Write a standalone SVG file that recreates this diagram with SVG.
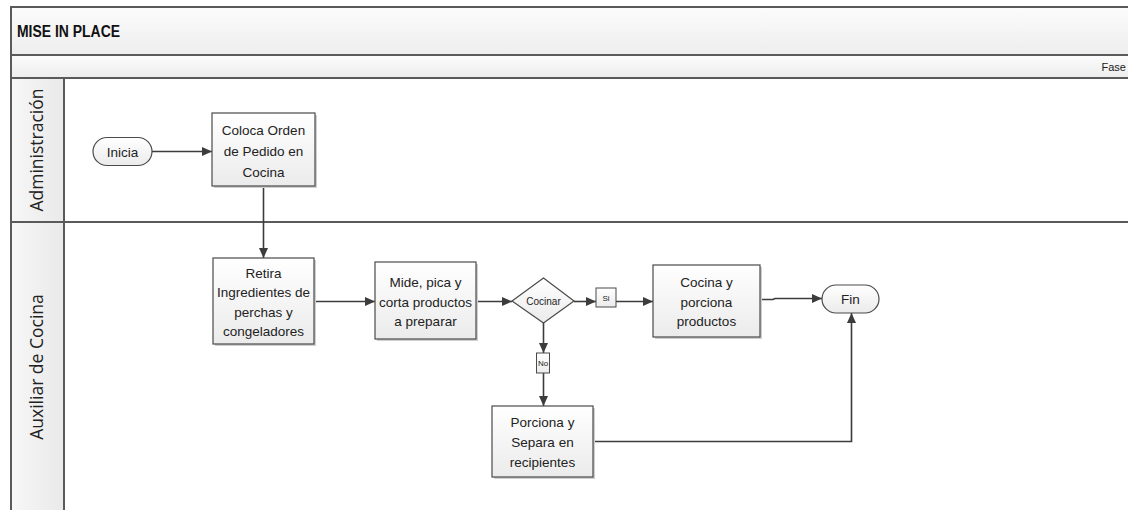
<svg xmlns="http://www.w3.org/2000/svg" width="1128" height="510" viewBox="0 0 1128 510">
  <defs>
    <linearGradient id="gBox" x1="0" y1="0" x2="0" y2="1">
      <stop offset="0" stop-color="#ffffff"/>
      <stop offset="1" stop-color="#ebebeb"/>
    </linearGradient>
    <linearGradient id="gBand" x1="0" y1="0" x2="0" y2="1">
      <stop offset="0" stop-color="#fcfcfc"/>
      <stop offset="1" stop-color="#ededed"/>
    </linearGradient>
    <linearGradient id="gHead" x1="0" y1="0" x2="1" y2="0">
      <stop offset="0" stop-color="#f7f7f7"/>
      <stop offset="1" stop-color="#e9e9e9"/>
    </linearGradient>
    <marker id="arrow" markerUnits="userSpaceOnUse" markerWidth="10" markerHeight="9" refX="10" refY="4.5" orient="auto">
      <path d="M0,0 L10,4.5 L0,9 z" fill="#3c3c3c"/>
    </marker>
    <style>
      .frame { fill: none; stroke: #5a5a5a; stroke-width: 2; }
      .band { fill: url(#gBand); }
      .head { fill: url(#gHead); }
      .box { fill: url(#gBox); stroke: #4a4a4a; stroke-width: 1.2; }
      .shadow { fill: #cfcfcf; }
      .tag { fill: url(#gBox); stroke: #4a4a4a; stroke-width: 1; }
      .conn { fill: none; stroke: #3c3c3c; stroke-width: 1.6; }
      .t { font-family: "Liberation Sans", Arial, sans-serif; font-size: 13.5px; fill: #222; text-anchor: middle; }
      .small { font-family: "Liberation Sans", Arial, sans-serif; font-size: 10px; fill: #222; text-anchor: middle; }
      .tiny { font-family: "Liberation Sans", Arial, sans-serif; font-size: 8px; fill: #222; text-anchor: middle; }
      .lane { font-family: "Open Sans", "DejaVu Sans", sans-serif; font-size: 17.5px; fill: #222; text-anchor: middle; }
      .title { font-family: "Liberation Sans", Arial, sans-serif; font-size: 16px; font-weight: bold; fill: #111; }
      .fase { font-family: "Liberation Sans", Arial, sans-serif; font-size: 11px; fill: #222; text-anchor: end; }
    </style>
  </defs>

  <rect width="1128" height="510" fill="#ffffff"/>

  <!-- Pool: title, phase band and lanes -->
  <g id="pool">
    <rect class="band" x="11" y="7" width="1130" height="48"/>
    <rect class="band" x="11" y="55" width="1130" height="23"/>
    <rect class="head" x="11" y="78" width="53" height="440"/>
    <line class="frame" x1="11" y1="7" x2="1130" y2="7"/>
    <line class="frame" x1="11" y1="55" x2="1130" y2="55"/>
    <line class="frame" x1="11" y1="78" x2="1130" y2="78"/>
    <line class="frame" x1="11" y1="222" x2="1130" y2="222"/>
    <line class="frame" x1="11" y1="6" x2="11" y2="520"/>
    <line class="frame" x1="64" y1="78" x2="64" y2="520" stroke-width="1.5"/>
    <text class="title" x="17" y="37" textLength="103" lengthAdjust="spacingAndGlyphs">MISE IN PLACE</text>
    <text class="fase" x="1126" y="71">Fase</text>
    <text class="lane" transform="translate(43 150) rotate(-90)">Administración</text>
    <text class="lane" transform="translate(43 367) rotate(-90)">Auxiliar de Cocina</text>
  </g>

  <!-- Connectors -->
  <g id="connectors">
    <line class="conn" x1="152" y1="151.5" x2="212" y2="151.5" marker-end="url(#arrow)"/>
    <line class="conn" x1="263.5" y1="186" x2="263.5" y2="258" marker-end="url(#arrow)"/>
    <line class="conn" x1="314" y1="301.5" x2="375" y2="301.5" marker-end="url(#arrow)"/>
    <line class="conn" x1="476" y1="301.5" x2="512" y2="301.5" marker-end="url(#arrow)"/>
    <line class="conn" x1="574" y1="301.5" x2="596" y2="301.5" marker-end="url(#arrow)"/>
    <line class="conn" x1="616" y1="301.5" x2="653" y2="301.5" marker-end="url(#arrow)"/>
    <line class="conn" x1="543.5" y1="323" x2="543.5" y2="353" marker-end="url(#arrow)"/>
    <line class="conn" x1="543.5" y1="373" x2="543.5" y2="406" marker-end="url(#arrow)"/>
    <polyline class="conn" points="760,299.5 773,299.5 775,298.5 822,298.5" marker-end="url(#arrow)"/>
    <polyline class="conn" points="593,441.5 851.5,441.5 851.5,313" marker-end="url(#arrow)"/>
  </g>

  <!-- Nodes -->
  <g id="inicia">
    <rect class="box" x="93" y="137.5" width="59" height="28" rx="14"/>
    <text class="t" x="122.5" y="156.5">Inicia</text>
  </g>

  <g id="coloca-orden">
    <rect class="shadow" x="214" y="115" width="103" height="73"/>
    <rect class="box" x="212" y="113" width="103" height="73"/>
    <text class="t" x="263.5" y="135">Coloca Orden</text>
    <text class="t" x="263.5" y="156">de Pedido en</text>
    <text class="t" x="263.5" y="177">Cocina</text>
  </g>

  <g id="retira-ingredientes">
    <rect class="shadow" x="215" y="260" width="101" height="86"/>
    <rect class="box" x="213" y="258" width="101" height="86"/>
    <text class="t" x="263.5" y="277.5">Retira</text>
    <text class="t" x="263.5" y="297">Ingredientes de</text>
    <text class="t" x="263.5" y="316.5">perchas y</text>
    <text class="t" x="263.5" y="336">congeladores</text>
  </g>

  <g id="mide-pica-corta">
    <rect class="shadow" x="377" y="264" width="101" height="77"/>
    <rect class="box" x="375" y="262" width="101" height="77"/>
    <text class="t" x="425.5" y="287">Mide, pica y</text>
    <text class="t" x="425.5" y="306.5">corta productos</text>
    <text class="t" x="425.5" y="326">a preparar</text>
  </g>

  <g id="cocinar">
    <polygon class="box" points="512,301 543.5,278 574,301 543.5,323"/>
    <text class="small" x="543.5" y="305">Cocinar</text>
  </g>

  <g id="label-si">
    <rect class="tag" x="596" y="288" width="20" height="19"/>
    <text class="tiny" x="606" y="300.5">Si</text>
  </g>

  <g id="label-no">
    <rect class="tag" x="536.5" y="353" width="13" height="20"/>
    <text class="tiny" x="543" y="366">No</text>
  </g>

  <g id="cocina-porciona">
    <rect class="shadow" x="655" y="267" width="107" height="72"/>
    <rect class="box" x="653" y="265" width="107" height="72"/>
    <text class="t" x="706.5" y="287">Cocina y</text>
    <text class="t" x="706.5" y="306.5">porciona</text>
    <text class="t" x="706.5" y="326">productos</text>
  </g>

  <g id="porciona-separa">
    <rect class="shadow" x="494" y="408" width="101" height="71"/>
    <rect class="box" x="492" y="406" width="101" height="71"/>
    <text class="t" x="542.5" y="427">Porciona y</text>
    <text class="t" x="542.5" y="446.5">Separa en</text>
    <text class="t" x="542.5" y="466.5">recipientes</text>
  </g>

  <g id="fin">
    <rect class="box" x="822" y="285" width="57" height="28" rx="14"/>
    <text class="t" x="850.5" y="304">Fin</text>
  </g>
</svg>
